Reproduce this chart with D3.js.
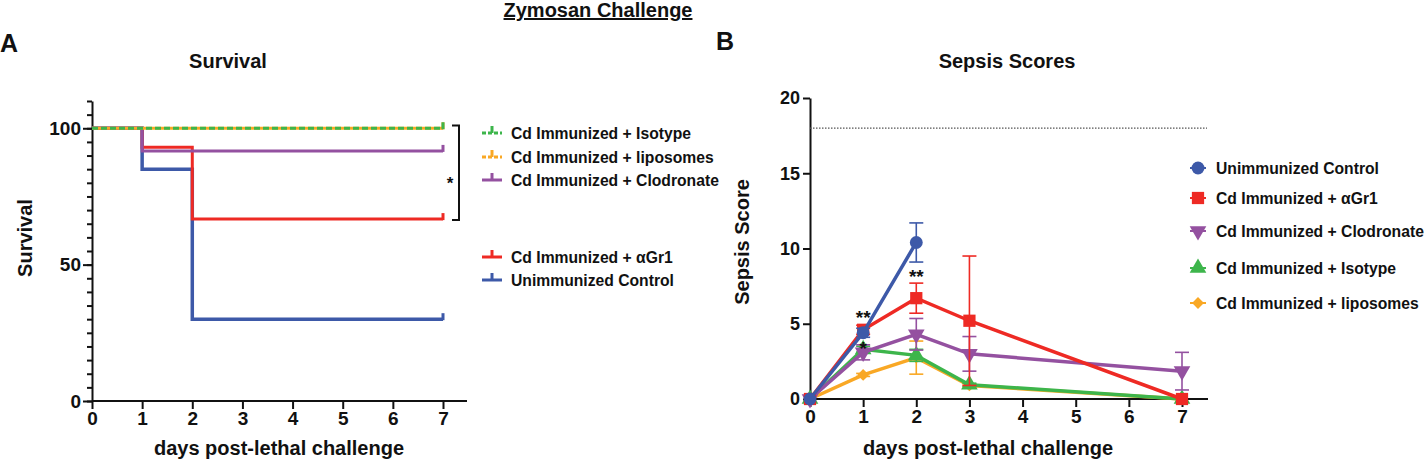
<!DOCTYPE html>
<html lang="en">
<head>
<meta charset="UTF-8">
<title>Zymosan Challenge</title>
<script src="https://d3js.org/d3.v7.min.js"></script>
<style>
  body { margin: 0; background: #fff; }
  text { font-family: "Liberation Sans", Arial, sans-serif; font-weight: bold; fill: #111; }
</style>
</head>
<body>
<div id="chart"></div>
<script>
// ---- data ----
// Survival (panel A), Kaplan-Meier steps
const survDays = [0, 1, 2, 7];
const survIsotype = [100, 100, 100, 100];
const survLiposomes = [100, 100, 100, 100];
const survClodronate = [100, 91.7, 91.7, 91.7];
const survGr1 = [100, 93, 66.7, 66.7];
const survControl = [100, 85, 30, 30];

// Sepsis scores (panel B), mean and error
const scoreDays = [0, 1, 2, 3, 7];
const scoreControl = [0, 4.4, 10.4];
const errControl = [0, 0.3, 1.3];
const scoreGr1 = [0, 4.6, 6.7, 5.2, 0];
const errGr1 = [0, 0.3, 1.0, 4.3, 0];
const scoreClodronate = [0, 3.1, 4.3, 3.0, 1.85];
const errClodronate = [0, 0.5, 1.05, 1.15, 1.25];
const scoreIsotype = [0, 3.3, 2.9, 0.95, 0];
const errIsotype = [0, 0.2, 0.4, 0.1, 0];
const scoreLiposomes = [0, 1.6, 2.75, 0.9, 0];
const errLiposomes = [0, 0.1, 1.1, 0.1, 0];
const scoreThreshold = 18;

const xTicks = [0, 1, 2, 3, 4, 5, 6, 7];

const colors = {
  control: "#3d59a8",
  gr1: "#ee2a24",
  clodronate: "#9451a0",
  isotype: "#3db54b",
  liposomes: "#f9a825"
};

const svg = d3.select("#chart").append("svg")
    .attr("width", 1425)
    .attr("height", 463);

// Figure title
svg.append("text")
    .attr("x", 598).attr("y", 17)
    .attr("text-anchor", "middle")
    .style("font-size", "20px")
    .style("text-decoration", "underline")
    .text("Zymosan Challenge");

svg.append("text").attr("x", 0).attr("y", 52).style("font-size", "25px").text("A");
svg.append("text").attr("x", 716).attr("y", 50).style("font-size", "25px").text("B");

// ================= Panel A =================
const xA = d3.scaleLinear().domain([0, 7]).range([92, 443]);
const yA = d3.scaleLinear().domain([0, 110]).range([401, 101]);

svg.append("text")
    .attr("x", 228).attr("y", 68)
    .attr("text-anchor", "middle")
    .style("font-size", "20px")
    .text("Survival");

// y axis: minor ticks every 5, labelled at 0/50/100
svg.append("g")
    .attr("transform", `translate(${xA(0)},0)`)
    .call(d3.axisLeft(yA).tickValues(d3.range(0, 111, 5)).tickSize(5).tickSizeOuter(0).tickFormat(""))
    .call(g => g.selectAll("line, path").attr("stroke", "#111").attr("stroke-width", 2));
svg.append("g")
    .attr("transform", `translate(${xA(0)},0)`)
    .call(d3.axisLeft(yA).tickValues([0, 50, 100]).tickSize(9).tickPadding(2).tickFormat(d3.format("d")))
    .call(g => g.select(".domain").remove())
    .call(g => g.selectAll("line").attr("stroke", "#111").attr("stroke-width", 2))
    .call(g => g.selectAll("text").style("font-size", "19px").attr("font-family", null).attr("fill", null));

// x axis
svg.append("g")
    .attr("transform", `translate(0,${yA(0)})`)
    .call(d3.axisBottom(xA).tickValues(xTicks).tickSize(8).tickSizeOuter(0).tickPadding(3).tickFormat(d3.format("d")))
    .call(g => g.select(".domain").attr("d", `M${xA(0)},0H467`))
    .call(g => g.selectAll("line, path").attr("stroke", "#111").attr("stroke-width", 2))
    .call(g => g.selectAll("text").style("font-size", "19px").attr("font-family", null).attr("fill", null));

svg.append("text")
    .attr("transform", `translate(32,238) rotate(-90)`)
    .attr("text-anchor", "middle")
    .style("font-size", "20px")
    .text("Survival");
svg.append("text")
    .attr("x", 279).attr("y", 455)
    .attr("text-anchor", "middle")
    .style("font-size", "20px")
    .text("days post-lethal challenge");

const stepLine = d3.line()
    .x((d, i) => xA(survDays[i]))
    .y(d => yA(d))
    .curve(d3.curveStepAfter);

const survSeries = [
  { vals: survControl, color: colors.control, dash: null, w: 3.5 },
  { vals: survGr1, color: colors.gr1, dash: null, w: 3 },
  { vals: survClodronate, color: colors.clodronate, dash: null, w: 3 },
  { vals: survLiposomes, color: colors.liposomes, dash: null, w: 3 },
  { vals: survIsotype, color: colors.isotype, dash: "6,3", w: 3 }
];

survSeries.forEach(s => {
  svg.append("path")
      .datum(s.vals)
      .attr("d", stepLine)
      .attr("fill", "none")
      .attr("stroke", s.color)
      .attr("stroke-width", s.w)
      .attr("stroke-dasharray", s.dash);
  // censor tick at the last day
  const last = s.vals[s.vals.length - 1];
  svg.append("line")
      .attr("x1", xA(7)).attr("x2", xA(7))
      .attr("y1", yA(last) + 1).attr("y2", yA(last) - 6)
      .attr("stroke", s.color)
      .attr("stroke-width", 3);
});

// significance bracket
svg.append("path")
    .attr("d", `M452,${yA(101)}H459V${yA(66.7) + 1}H452`)
    .attr("fill", "none")
    .attr("stroke", "#111")
    .attr("stroke-width", 2);
svg.append("text")
    .attr("x", 450).attr("y", 189)
    .attr("text-anchor", "middle")
    .style("font-size", "17px")
    .text("*");

// legend A
const legendA = [
  { label: "Cd Immunized + Isotype", color: colors.isotype, dash: "4,2", y: 133 },
  { label: "Cd Immunized + liposomes", color: colors.liposomes, dash: "4,2", y: 157 },
  { label: "Cd Immunized + Clodronate", color: colors.clodronate, dash: null, y: 180 },
  { label: "Cd Immunized + \u03b1Gr1", color: colors.gr1, dash: null, y: 257 },
  { label: "Unimmunized Control", color: colors.control, dash: null, y: 280 }
];
legendA.forEach(d => {
  svg.append("line")
      .attr("x1", 482).attr("x2", 502).attr("y1", d.y).attr("y2", d.y)
      .attr("stroke", d.color).attr("stroke-width", 3).attr("stroke-dasharray", d.dash);
  svg.append("line")
      .attr("x1", 492).attr("x2", 492).attr("y1", d.y).attr("y2", d.y - 7)
      .attr("stroke", d.color).attr("stroke-width", 3);
  svg.append("text")
      .attr("x", 511).attr("y", d.y + 6)
      .style("font-size", "15.7px")
      .text(d.label);
});

// ================= Panel B =================
const xB = d3.scaleLinear().domain([0, 7]).range([810, 1182]);
const yB = d3.scaleLinear().domain([0, 20]).range([399, 98]);

svg.append("text")
    .attr("x", 1007).attr("y", 68)
    .attr("text-anchor", "middle")
    .style("font-size", "20px")
    .text("Sepsis Scores");

svg.append("g")
    .attr("transform", `translate(${xB(0)},0)`)
    .call(d3.axisLeft(yB).tickValues([0, 5, 10, 15, 20]).tickSize(7).tickSizeOuter(0).tickPadding(3).tickFormat(d3.format("d")))
    .call(g => g.selectAll("line, path").attr("stroke", "#111").attr("stroke-width", 2))
    .call(g => g.selectAll("text").style("font-size", "18px").attr("font-family", null).attr("fill", null));

svg.append("g")
    .attr("transform", `translate(0,${yB(0)})`)
    .call(d3.axisBottom(xB).tickValues(xTicks).tickSize(8).tickSizeOuter(0).tickPadding(3).tickFormat(d3.format("d")))
    .call(g => g.select(".domain").attr("d", `M${xB(0)},0H1208`))
    .call(g => g.selectAll("line, path").attr("stroke", "#111").attr("stroke-width", 2))
    .call(g => g.selectAll("text").style("font-size", "19px").attr("font-family", null).attr("fill", null));

svg.append("text")
    .attr("transform", `translate(749,242) rotate(-90)`)
    .attr("text-anchor", "middle")
    .style("font-size", "20px")
    .text("Sepsis Score");
svg.append("text")
    .attr("x", 988).attr("y", 455)
    .attr("text-anchor", "middle")
    .style("font-size", "20px")
    .text("days post-lethal challenge");

// threshold line
svg.append("line")
    .attr("x1", xB(0)).attr("x2", 1207)
    .attr("y1", yB(scoreThreshold)).attr("y2", yB(scoreThreshold))
    .attr("stroke", "#555")
    .attr("stroke-width", 1.2)
    .attr("stroke-dasharray", "1.5,1.5");

const symbols = {
  circle: d3.symbol().type(d3.symbolCircle).size(130),
  square: d3.symbol().type(d3.symbolSquare).size(150),
  down: d3.symbol().type(d3.symbolTriangle).size(120),
  up: d3.symbol().type(d3.symbolTriangle).size(120),
  diamond: d3.symbol().type(d3.symbolSquare).size(70)
};
const symbolRotate = { down: 180, diamond: 45 };

const scoreSeries = [
  { vals: scoreLiposomes, err: errLiposomes, color: colors.liposomes, sym: "diamond", label: "Cd Immunized + liposomes", ly: 303 },
  { vals: scoreIsotype, err: errIsotype, color: colors.isotype, sym: "up", label: "Cd Immunized + Isotype", ly: 268 },
  { vals: scoreClodronate, err: errClodronate, color: colors.clodronate, sym: "down", label: "Cd Immunized + Clodronate", ly: 231 },
  { vals: scoreGr1, err: errGr1, color: colors.gr1, sym: "square", label: "Cd Immunized + \u03b1Gr1", ly: 198 },
  { vals: scoreControl, err: errControl, color: colors.control, sym: "circle", label: "Unimmunized Control", ly: 168 }
];

const scoreLine = d3.line()
    .x((d, i) => xB(scoreDays[i]))
    .y(d => yB(d));

function marker(sel, s, x, y) {
  const rot = symbolRotate[s.sym] ? ` rotate(${symbolRotate[s.sym]})` : "";
  sel.append("path")
      .attr("d", symbols[s.sym]())
      .attr("transform", `translate(${x},${y})` + rot)
      .attr("fill", s.color);
}

scoreSeries.forEach(s => {
  const g = svg.append("g");
  // error bars
  s.vals.forEach((v, i) => {
    if (!s.err[i]) return;
    const x = xB(scoreDays[i]);
    const y0 = yB(v - s.err[i]), y1 = yB(v + s.err[i]);
    g.append("line").attr("x1", x).attr("x2", x).attr("y1", y0).attr("y2", y1)
        .attr("stroke", s.color).attr("stroke-width", 1.6);
    [y0, y1].forEach(yy => {
      g.append("line").attr("x1", x - 7).attr("x2", x + 7).attr("y1", yy).attr("y2", yy)
          .attr("stroke", s.color).attr("stroke-width", 1.6);
    });
  });
  g.append("path")
      .datum(s.vals)
      .attr("d", scoreLine)
      .attr("fill", "none")
      .attr("stroke", s.color)
      .attr("stroke-width", 3.5);
  s.vals.forEach((v, i) => marker(g, s, xB(scoreDays[i]), yB(v)));
});

// significance stars
const stars = [
  { day: 1, val: scoreControl[1], dy: -9, text: "**" },
  { day: 1, val: scoreClodronate[1], dy: 3, text: "*" },
  { day: 2, val: scoreGr1[2], dy: -15, text: "**" }
];
stars.forEach(d => {
  svg.append("text")
      .attr("x", xB(d.day)).attr("y", yB(d.val) + d.dy)
      .attr("text-anchor", "middle")
      .style("font-size", "19px")
      .text(d.text);
});

// legend B
scoreSeries.forEach(s => {
  svg.append("line")
      .attr("x1", 1190).attr("x2", 1206).attr("y1", s.ly).attr("y2", s.ly)
      .attr("stroke", s.color).attr("stroke-width", 2);
  marker(svg, s, 1198, s.ly);
  svg.append("text")
      .attr("x", 1216).attr("y", s.ly + 6)
      .style("font-size", "15.7px")
      .text(s.label);
});
</script>
</body>
</html>
